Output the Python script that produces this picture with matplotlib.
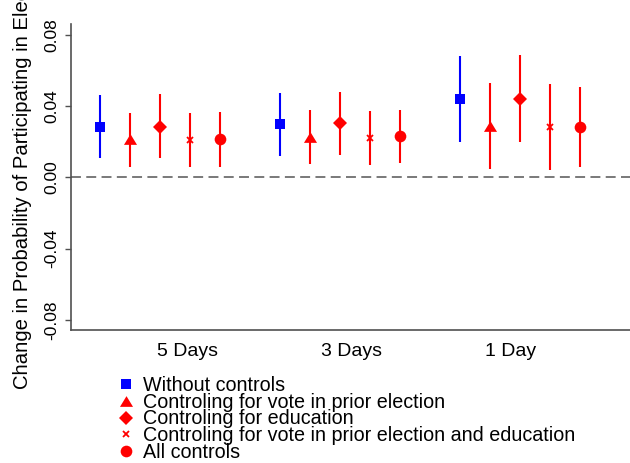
import numpy as np
import matplotlib
matplotlib.use("Agg")
import matplotlib.pyplot as plt

plt.rcParams['font.family'] = ['Liberation Sans', 'DejaVu Sans']

# Time before the election (x groups)
periods = ["5 Days", "3 Days", "1 Day"]
period_tick_pos = [2.93, 8.37, 13.7]
group_base = np.array([0, 6, 12])

series_labels = [
    "Without controls",
    "Controling for vote in prior election",
    "Controling for education",
    "Controling for vote in prior election and education",
    "All controls",
]

# Point estimates and 95% confidence bounds per specification
est_none = [0.0284, 0.0299, 0.0441]
lo_none = [0.0107, 0.0121, 0.0200]
hi_none = [0.0462, 0.0475, 0.0680]

est_vote = [0.0217, 0.0228, 0.0288]
lo_vote = [0.0060, 0.0073, 0.0045]
hi_vote = [0.0362, 0.0376, 0.0527]

est_educ = [0.0284, 0.0306, 0.0441]
lo_educ = [0.0110, 0.0127, 0.0200]
hi_educ = [0.0466, 0.0480, 0.0684]

est_vote_educ = [0.0209, 0.0220, 0.0281]
lo_vote_educ = [0.0056, 0.0069, 0.0041]
hi_vote_educ = [0.0359, 0.0372, 0.0523]

est_all = [0.0213, 0.0230, 0.0281]
lo_all = [0.0060, 0.0079, 0.0056]
hi_all = [0.0368, 0.0378, 0.0505]

estimates = [est_none, est_vote, est_educ, est_vote_educ, est_all]
lows = [lo_none, lo_vote, lo_educ, lo_vote_educ, lo_all]
highs = [hi_none, hi_vote, hi_educ, hi_vote_educ, hi_all]

yticks = [-0.08, -0.04, 0.00, 0.04, 0.08]
ytick_labels = ["-0.08", "-0.04", "0.00", "0.04", "0.08"]

tri = [(0, 0.82), (-1, -0.82), (1, -0.82)]
styles = [
    dict(color="#0000ff", marker="s", ms=7.7, mew=0),
    dict(color="#ff0000", marker=tri, ms=9.4, mew=0),
    dict(color="#ff0000", marker="D", ms=7.3, mew=0),
    dict(color="#ff0000", marker="x", ms=4.8, mew=1.3),
    dict(color="#ff0000", marker="o", ms=8.4, mew=0),
]

W, H = 630, 463
fig = plt.figure(figsize=(W / 100, H / 100), dpi=100)
ax = fig.add_axes([71 / W, (H - 330) / H, (W - 71) / W, (330 - 24) / H])

ax.axhline(0, color="#555555", lw=1.1, ls=(0, (6.5, 3.5)), zorder=1)

for s in range(5):
    x = group_base + s
    est = np.array(estimates[s])
    yerr = np.vstack([est - np.array(lows[s]), np.array(highs[s]) - est])
    st = styles[s]
    ax.errorbar(x, est, yerr=yerr, fmt="none", ecolor=st["color"],
                elinewidth=1.5, capsize=0, zorder=2)
    ax.plot(x, est, ls="none", marker=st["marker"], ms=st["ms"],
            color=st["color"], mec=st["color"], mew=st["mew"], zorder=3)

ax.set_xlim(-0.97, 17.67)
ax.set_ylim(-0.0857, 0.0860)

ax.set_xticks(period_tick_pos)
ax.set_xticklabels(periods, fontsize=14)
ax.tick_params(axis="x", length=0, pad=9.4)

ax.set_yticks(yticks)
ax.set_yticklabels(ytick_labels, fontsize=12.5, rotation=90, va="center")
ax.tick_params(axis="y", length=4.6, width=1.0, color="#505050", pad=4.0)

for side in ["top", "right"]:
    ax.spines[side].set_visible(False)
for side in ["left", "bottom"]:
    ax.spines[side].set_color("#505050")
    ax.spines[side].set_linewidth(1.2)

fig.text(23 / W, 1 - 173 / H,
         "Change in Probability of Participating in Election",
         rotation=90, ha="center", va="center", fontsize=14.6)

# Legend drawn in pixel coordinates on an overlay
lg = fig.add_axes([0, 0, 1, 1], facecolor="none")
lg.set_xlim(0, W)
lg.set_ylim(H, 0)
lg.axis("off")
row_y = [384, 400.7, 417.7, 434.3, 451]
for s in range(5):
    st = styles[s]
    lg.plot([126], [row_y[s]], ls="none", marker=st["marker"], ms=st["ms"],
            color=st["color"], mec=st["color"], mew=st["mew"])
    lg.text(143, row_y[s] + 6.8, series_labels[s], fontsize=14.2,
            ha="left", va="baseline")

fig.savefig("out.png", dpi=100)
